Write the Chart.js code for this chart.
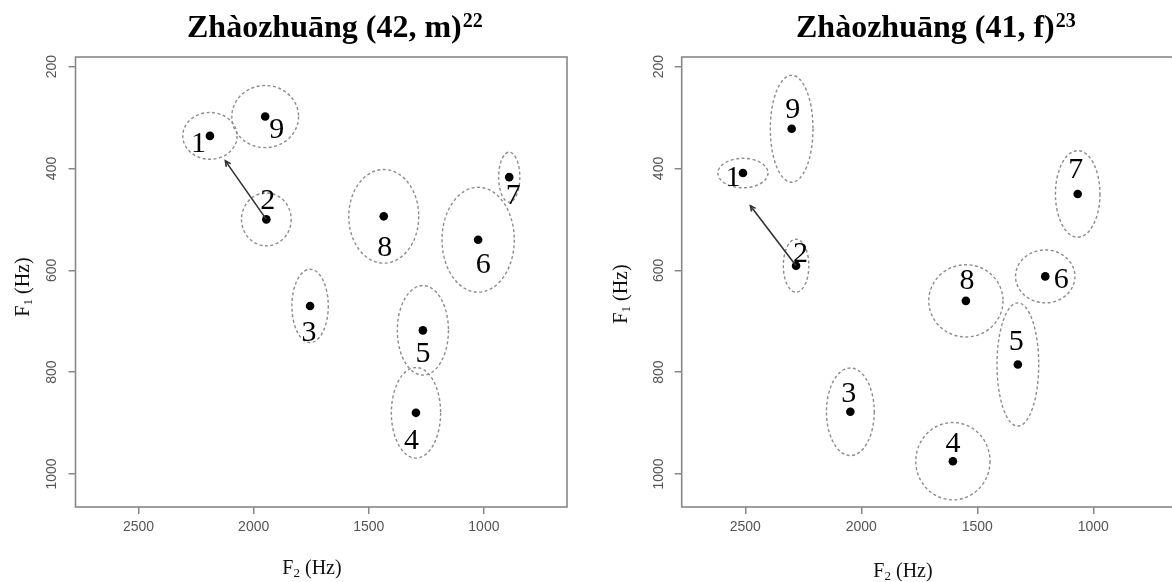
<!DOCTYPE html>
<html>
<head>
<meta charset="utf-8">
<script src="https://cdn.jsdelivr.net/npm/chart.js@4.4.1/dist/chart.umd.min.js"></script>
<style>
  html, body { margin:0; padding:0; background:#fff; width:1172px; height:582px; overflow:hidden; }
  .panel { position:absolute; top:0; }
  #p1 { left:0; }
  #p2 { left:590px; }
</style>
</head>
<body>
<div class="panel" id="p1"><canvas id="c1" width="590" height="582"></canvas></div>
<div class="panel" id="p2"><canvas id="c2" width="600" height="582"></canvas></div>
<script>
// vowel numbers
const vowels = ['1','2','3','4','5','6','7','8','9'];

// Zhaozhuang (42, m): mean F2 / F1 (Hz) and ellipse half-axes (Hz)
const mF2   = [2190, 1945, 1755, 1295, 1265, 1025,  890, 1435, 1950];
const mF1   = [ 336,  500,  670,  880,  718,  540,  417,  494,  298];
const mSdF2 = [ 118,  108,   79,  107,  111,  157,   46,  152,  145];
const mSdF1 = [  46,   52,   72,   89,   88,  103,   49,   92,   61];
const mArrow = [2123, 385];   // arrow from vowel 2 towards vowel 1

// Zhaozhuang (41, f)
const fF2   = [2510, 2281, 2047, 1605, 1325, 1207, 1067, 1549, 2300];
const fF1   = [ 409,  591,  878,  975,  785,  612,  450,  660,  322];
const fSdF2 = [ 108,   55,  103,  160,   90,  128,   96,  160,   92];
const fSdF1 = [  29,   52,   86,   76,  121,   52,   85,   71,  105];
const fArrow = [2478, 473];

// axis ranges and ticks
const f2Range = [639, 2774];
const f1Range = [181, 1065];
const f2Ticks = [1000, 1500, 2000, 2500];
const f1Ticks = [200, 400, 600, 800, 1000];

// --- label offsets (px) for the vowel numbers
const mLabDx = [-11.5,  1.5, -1, -4.5,  0,  5,  4,  1, 11.5];
const mLabDy = [    7,  -19, 26,   27, 23, 24, 18, 31, 12.5];
const fLabDx = [  -10,  4.5, -1.5,  0, -1.5, 16, -2,  1,   1];
const fLabDy = [    4,  -13,  -19, -18,  -23,  3, -25, -21, -20];

const SERIF = '"Liberation Serif", "Times New Roman", serif';
const SANS = '"Liberation Sans", Arial, sans-serif';

function vowelPlugin(p){
  return {
    id: 'vowel_' + p.id,
    beforeDatasetsDraw(chart){
      const {ctx, scales:{x, y}} = chart;
      ctx.save();
      ctx.strokeStyle = '#8c8c8c'; ctx.lineWidth = 1.4; ctx.setLineDash([3, 2.5]);
      p.f2.forEach((v, i) => {
        const cx = x.getPixelForValue(v), cy = y.getPixelForValue(p.f1[i]);
        const rx = Math.abs(x.getPixelForValue(v + p.sd2[i]) - cx);
        const ry = Math.abs(y.getPixelForValue(p.f1[i] + p.sd1[i]) - cy);
        ctx.beginPath(); ctx.ellipse(cx, cy, rx, ry, 0, 0, Math.PI*2); ctx.stroke();
      });
      ctx.restore();
    },
    afterDatasetsDraw(chart){
      const {ctx, scales:{x, y}} = chart;
      ctx.save();
      // arrow 2 -> 1
      const x0 = x.getPixelForValue(p.f2[1]), y0 = y.getPixelForValue(p.f1[1]);
      const x1 = x.getPixelForValue(p.arrow[0]), y1 = y.getPixelForValue(p.arrow[1]);
      ctx.strokeStyle = '#333'; ctx.lineWidth = 1.6;
      ctx.beginPath(); ctx.moveTo(x0, y0); ctx.lineTo(x1, y1); ctx.stroke();
      const a = Math.atan2(y1 - y0, x1 - x0), L = 6;
      ctx.beginPath();
      ctx.moveTo(x1 - L*Math.cos(a - 0.45), y1 - L*Math.sin(a - 0.45));
      ctx.lineTo(x1, y1);
      ctx.lineTo(x1 - L*Math.cos(a + 0.45), y1 - L*Math.sin(a + 0.45));
      ctx.stroke();
      // vowel numbers
      ctx.fillStyle = '#000'; ctx.font = '30px ' + SERIF;
      ctx.textAlign = 'center'; ctx.textBaseline = 'middle';
      vowels.forEach((v, i) => {
        ctx.fillText(v, x.getPixelForValue(p.f2[i]) + p.labDx[i], y.getPixelForValue(p.f1[i]) + p.labDy[i] + 1);
      });
      ctx.restore();
    },
    afterDraw(chart){
      const {ctx, chartArea:ca, scales:{y}} = chart;
      ctx.save();
      // box
      ctx.strokeStyle = '#888'; ctx.lineWidth = 1.6;
      ctx.strokeRect(ca.left, ca.top, ca.right - ca.left, ca.bottom - ca.top);
      // rotated y tick labels
      ctx.fillStyle = '#555'; ctx.font = '14px ' + SANS;
      ctx.textAlign = 'center'; ctx.textBaseline = 'middle';
      y.ticks.forEach(t => {
        ctx.save();
        ctx.translate(ca.left - 23, y.getPixelForValue(t.value));
        ctx.rotate(-Math.PI/2);
        ctx.fillText(String(t.value), 0, 0);
        ctx.restore();
      });
      // x axis title  F2 (Hz)
      ctx.fillStyle = '#111'; ctx.textBaseline = 'alphabetic'; ctx.textAlign = 'left';
      drawF(ctx, '2', p.xlab[0], p.xlab[1]);
      // y axis title  F1 (Hz)
      ctx.save();
      ctx.translate(p.ylab[0], p.ylab[1]);
      ctx.rotate(-Math.PI/2);
      drawF(ctx, '1', 0, 7);
      ctx.restore();
      // main title
      ctx.fillStyle = '#000';
      ctx.font = 'bold 32px ' + SERIF;
      ctx.fillText(p.title, p.titleX, 37);
      const w = ctx.measureText(p.title).width;
      ctx.font = 'bold 20px ' + SERIF;
      ctx.fillText(p.sup, p.titleX + w + 1, 27);
      ctx.restore();
    }
  };
}

// draws "Fn (Hz)" centred on cx with baseline by
function drawF(ctx, sub, cx, by){
  ctx.font = '20px ' + SERIF;
  const wF = ctx.measureText('F').width, wR = ctx.measureText(' (Hz)').width;
  ctx.font = '13px ' + SERIF;
  const wS = ctx.measureText(sub).width;
  let x0 = cx - (wF + wS + wR)/2;
  ctx.font = '20px ' + SERIF; ctx.fillText('F', x0, by);
  ctx.font = '13px ' + SERIF; ctx.fillText(sub, x0 + wF, by + 3);
  ctx.font = '20px ' + SERIF; ctx.fillText(' (Hz)', x0 + wF + wS, by);
}

function makePanel(p){
  const points = p.f2.map((v, i) => ({x: v, y: p.f1[i]}));
  new Chart(document.getElementById(p.id), {
    type: 'scatter',
    data: { datasets: [{ data: points, pointRadius: 4.3, pointHoverRadius: 4.3,
      pointBackgroundColor: '#000', pointBorderWidth: 0 }] },
    options: {
      responsive: false, animation: false, events: [],
      layout: { padding: { top: 57, right: p.padRight, left: 0, bottom: 0 } },
      plugins: { legend: { display: false }, tooltip: { enabled: false } },
      scales: {
        x: {
          type: 'linear', reverse: true, min: f2Range[0], max: f2Range[1],
          afterFit: s => { s.height = 75; },
          afterBuildTicks: s => { s.ticks = f2Ticks.map(v => ({value: v})); },
          ticks: { color: '#555', font: { family: SANS, size: 14 }, padding: 5,
                   maxRotation: 0, callback: v => String(v) },
          grid: { drawOnChartArea: false, drawTicks: true, tickLength: 7, color: '#888', lineWidth: 1.5 },
          border: { display: false }
        },
        y: {
          type: 'linear', reverse: true, min: f1Range[0], max: f1Range[1],
          afterFit: s => { s.width = p.axisW; },
          afterBuildTicks: s => { s.ticks = f1Ticks.map(v => ({value: v})); },
          ticks: { display: false },
          grid: { drawOnChartArea: false, drawTicks: true, tickLength: 7, color: '#888', lineWidth: 1.5 },
          border: { display: false }
        }
      }
    },
    plugins: [vowelPlugin(p)]
  });
}

makePanel({ id: 'c1', title: 'Zhàozhuāng (42, m)', sup: '22',
  f2: mF2, f1: mF1, sd2: mSdF2, sd1: mSdF1, arrow: mArrow, labDx: mLabDx, labDy: mLabDy,
  axisW: 75.5, padRight: 23, titleX: 187, xlab: [312, 574], ylab: [22, 287] });

makePanel({ id: 'c2', title: 'Zhàozhuāng (41, f)', sup: '23',
  f2: fF2, f1: fF1, sd2: fSdF2, sd1: fSdF1, arrow: fArrow, labDx: fLabDx, labDy: fLabDy,
  axisW: 91.7, padRight: 13, titleX: 206, xlab: [313, 577], ylab: [30, 294] });
</script>
</body>
</html>
